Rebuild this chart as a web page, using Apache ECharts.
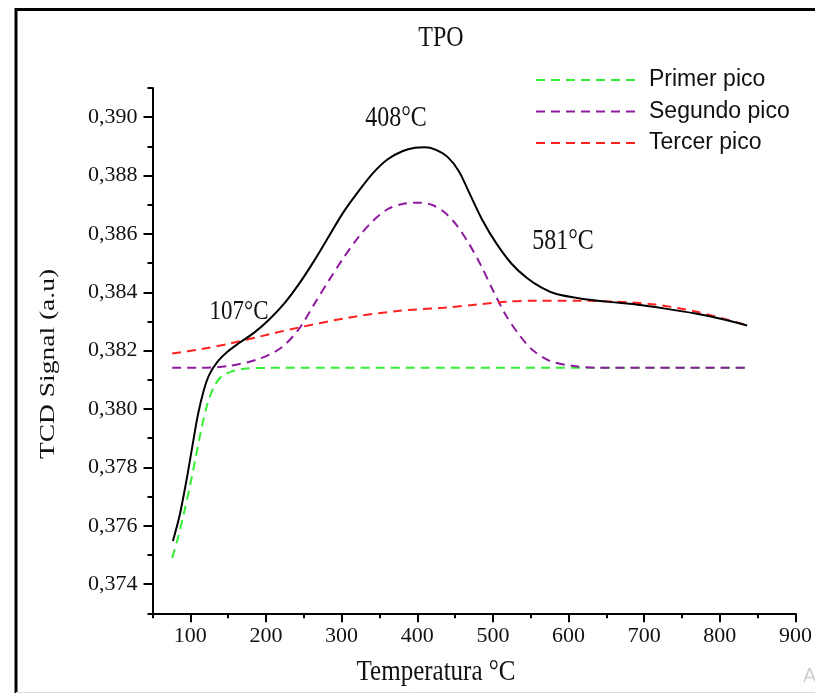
<!DOCTYPE html>
<html>
<head>
<meta charset="utf-8">
<script src="https://cdn.jsdelivr.net/npm/echarts@6/dist/echarts.min.js"></script>
<style>
html,body{margin:0;padding:0;background:#fff;}
#chart{width:815px;height:693px;}
</style>
</head>
<body>
<div id="chart"></div>
<script>
// ---- data ----
const seriesNames = ['Primer pico', 'Segundo pico', 'Tercer pico'];

const totalX = [77, 86, 95, 103, 110, 118, 125, 136, 149, 165, 184, 204, 224, 243, 263, 283, 302, 322, 342, 361, 381, 397, 410, 424, 440, 455, 468, 486, 505, 525, 545, 565, 584, 617, 650, 689, 728, 768, 807, 836];
const totalY = [0.37548, 0.37637, 0.37757, 0.37877, 0.37980, 0.38066, 0.38117, 0.38162, 0.38196, 0.38227, 0.38261, 0.38306, 0.38361, 0.38426, 0.38505, 0.38591, 0.38673, 0.38745, 0.38810, 0.38856, 0.38884, 0.38895, 0.38897, 0.38889, 0.38864, 0.38815, 0.38745, 0.38648, 0.38566, 0.38497, 0.38449, 0.38415, 0.38394, 0.38378, 0.38368, 0.38358, 0.38344, 0.38327, 0.38306, 0.38286];

const primerX = [76, 83, 91, 99, 107, 115, 123, 132, 141, 154, 171, 204, 836];
const primerY = [0.37490, 0.37552, 0.37637, 0.37730, 0.37833, 0.37936, 0.38021, 0.38080, 0.38111, 0.38128, 0.38138, 0.38141, 0.38141];

const segundoX = [76, 112, 152, 191, 220, 243, 263, 283, 302, 322, 342, 361, 383, 404, 420, 436, 452, 468, 484, 500, 517, 533, 552, 575, 605, 638, 836];
const segundoY = [0.38141, 0.38141, 0.38148, 0.38172, 0.38210, 0.38272, 0.38356, 0.38440, 0.38516, 0.38588, 0.38646, 0.38685, 0.38704, 0.38707, 0.38699, 0.38674, 0.38630, 0.38568, 0.38493, 0.38407, 0.38322, 0.38260, 0.38203, 0.38165, 0.38148, 0.38141, 0.38141];

const tercerX = [76, 112, 152, 191, 243, 309, 374, 440, 479, 519, 558, 610, 663, 715, 768, 820, 836];
const tercerY = [0.38190, 0.38204, 0.38224, 0.38248, 0.38279, 0.38313, 0.38336, 0.38348, 0.38358, 0.38368, 0.38371, 0.38371, 0.38368, 0.38358, 0.38334, 0.38299, 0.38286];

const xMajorTicks = [100, 200, 300, 400, 500, 600, 700, 800, 900];
const xMinorTicks = [50, 150, 250, 350, 450, 550, 650, 750, 850];
const yMajorTicks = [0.374, 0.376, 0.378, 0.380, 0.382, 0.384, 0.386, 0.388, 0.390];
const yMinorTicks = [0.373, 0.375, 0.377, 0.379, 0.381, 0.383, 0.385, 0.387, 0.389, 0.391];

const peakLabels = ['107°C', '408°C', '581°C'];

// ---- chart ----
function pairs(xs, ys) { return xs.map((x, i) => [x, ys[i]]); }

const serif = 'Liberation Serif';
const chart = echarts.init(document.getElementById('chart'));

const X_MIN = 50, X_MAX = 900, Y_MIN = 0.373, Y_MAX = 0.391;

const baseX = {
  type: 'value', min: X_MIN, max: X_MAX, gridIndex: 0, position: 'bottom',
  splitLine: { show: false }
};
const baseY = {
  type: 'value', min: Y_MIN, max: Y_MAX, gridIndex: 0, position: 'left',
  splitLine: { show: false }
};

function txt(text, x, y, size, extra) {
  return Object.assign({
    type: 'text', x: x, y: y, silent: true,
    scaleY: 1.22,
    style: { text: text, font: size + 'px "Liberation Serif"', fill: '#111', align: 'center', verticalAlign: 'middle' }
  }, extra || {});
}

const option = {
  backgroundColor: '#fff',
  animation: false,
  legend: {
    data: seriesNames,
    orient: 'vertical',
    left: 530, top: 63,
    itemWidth: 105, itemHeight: 14, itemGap: 7.5,
    itemStyle: { color: 'rgba(0,0,0,0)', borderWidth: 0 },
    textStyle: { fontFamily: 'Liberation Sans', fontSize: 23, lineHeight: 24, color: '#111', padding: [0, 0, 0, 3] }
  },
  grid: { left: 152.5, right: 14, top: 88, bottom: 79.7, containLabel: false },
  xAxis: [
    Object.assign({}, baseX, {
      axisLine: { show: true, lineStyle: { color: '#000', width: 2 } },
      axisTick: { show: true, length: 9, customValues: xMajorTicks, lineStyle: { color: '#000', width: 2 } },
      axisLabel: { show: true, customValues: xMajorTicks, margin: 12, fontFamily: serif, fontSize: 22, color: '#111' }
    }),
    Object.assign({}, baseX, {
      axisLine: { show: false },
      axisTick: { show: true, length: 5, customValues: xMinorTicks, lineStyle: { color: '#000', width: 2 } },
      axisLabel: { show: false }
    })
  ],
  yAxis: [
    Object.assign({}, baseY, {
      axisLine: { show: true, lineStyle: { color: '#000', width: 2 } },
      axisTick: { show: true, length: 9, customValues: yMajorTicks, lineStyle: { color: '#000', width: 2 } },
      axisLabel: {
        show: true, customValues: yMajorTicks, margin: 15, fontFamily: serif, fontSize: 22, color: '#111',
        formatter: v => v.toFixed(3).replace('.', ',')
      }
    }),
    Object.assign({}, baseY, {
      axisLine: { show: false },
      axisTick: { show: true, length: 5, customValues: yMinorTicks, lineStyle: { color: '#000', width: 2 } },
      axisLabel: { show: false }
    })
  ],
  series: [
    {
      name: 'Total', type: 'line', data: pairs(totalX, totalY), symbol: 'none', smooth: 0.3,
      lineStyle: { color: '#000', width: 2 }, itemStyle: { color: '#000' }, z: 5
    },
    {
      name: seriesNames[0], type: 'line', data: pairs(primerX, primerY), symbol: 'none', smooth: 0.3,
      lineStyle: { color: '#33ee33', width: 2, type: [9, 6] }, itemStyle: { color: '#33ee33' }
    },
    {
      name: seriesNames[1], type: 'line', data: pairs(segundoX, segundoY), symbol: 'none', smooth: 0.3,
      lineStyle: { color: '#8e1a9e', width: 2, type: [9, 6] }, itemStyle: { color: '#8e1a9e' }
    },
    {
      name: seriesNames[2], type: 'line', data: pairs(tercerX, tercerY), symbol: 'none', smooth: 0.3,
      lineStyle: { color: '#ff2020', width: 2, type: [9, 6] }, itemStyle: { color: '#ff2020' }
    }
  ],
  graphic: [
    { type: 'polyline', shape: { points: [[16, 693], [16, 9.5], [815, 9.5]] }, style: { stroke: '#000', lineWidth: 3, fill: null }, silent: true },
    { type: 'line', shape: { x1: 16, y1: 692.5, x2: 815, y2: 692.5 }, style: { stroke: '#ddd', lineWidth: 1 }, silent: true },
    txt('TPO', 441, 38, 24),
    txt(peakLabels[0], 239, 312, 23),
    txt(peakLabels[1], 396, 118, 24),
    txt(peakLabels[2], 563, 241, 24),
    txt('TCD Signal (a.u)', 48, 364, 22, { rotation: Math.PI / 2, scaleY: 1, scaleX: 1.25 }),
    txt('Temperatura °C', 436, 672, 25),
    { type: 'text', x: 803, y: 676, silent: true, style: { text: 'A', font: '20px "Liberation Sans"', fill: '#d0d0d0', verticalAlign: 'middle' } }
  ]
};
chart.setOption(option);
</script>
</body>
</html>
